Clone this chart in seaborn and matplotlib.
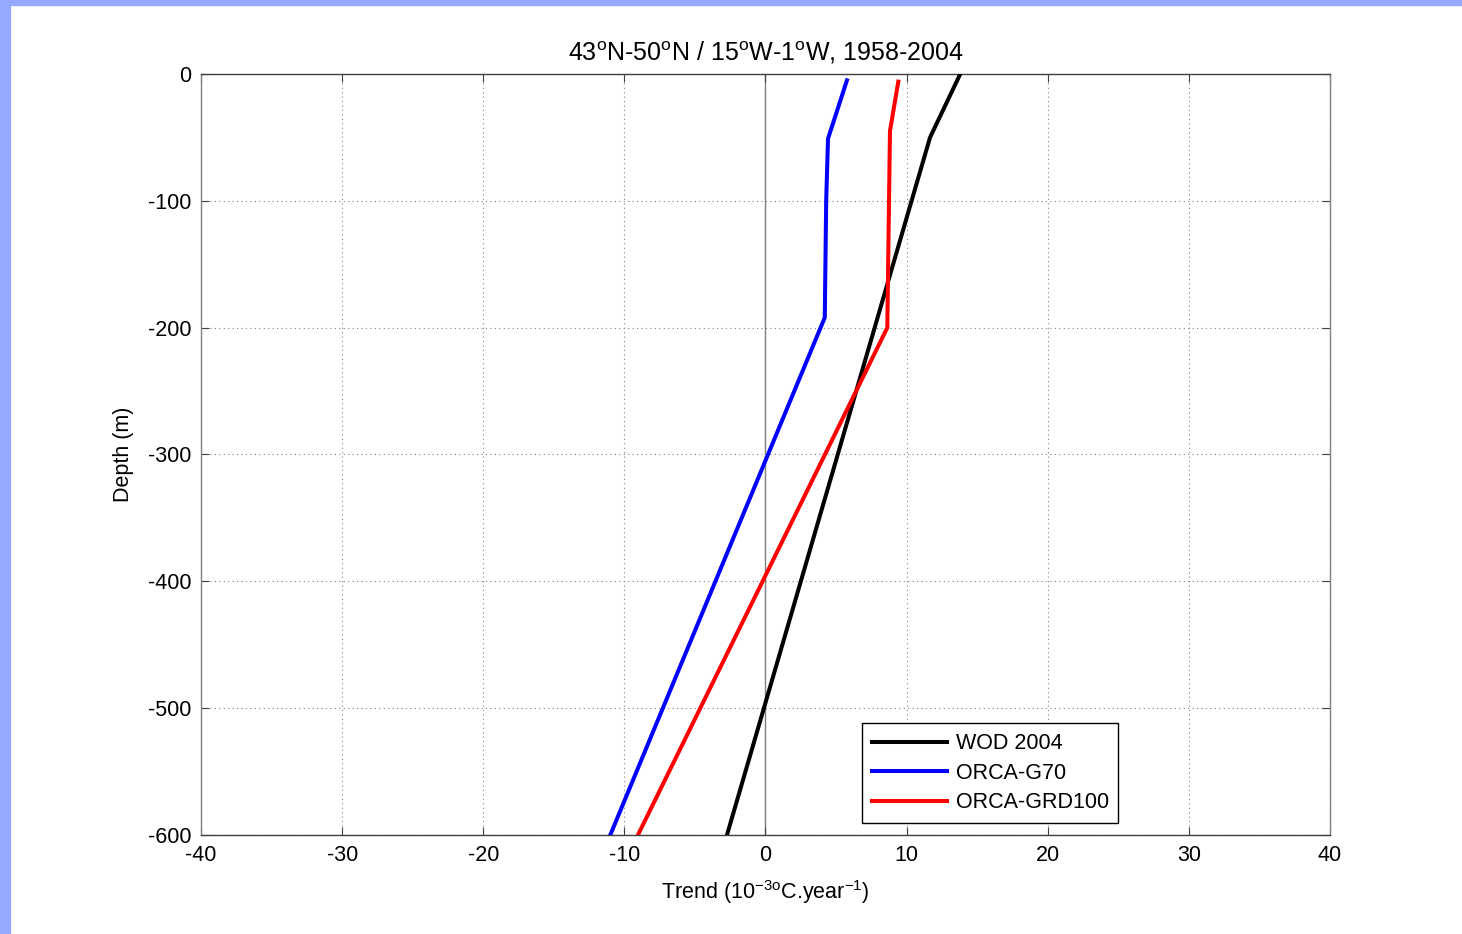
import numpy as np
import matplotlib
matplotlib.use("Agg")
import matplotlib.pyplot as plt
import pandas as pd
import seaborn as sns
from matplotlib.patches import Rectangle

# profiles (trend in 1e-3 degC/yr, depth in m)
wod_trend = [13.8, 11.66, -2.73]
wod_depth = [0, -50, -600]
g70_trend = [5.77, 4.43, 4.3, 4.2, -11.0]
g70_depth = [-5, -51, -100, -192, -600]
grd_trend = [9.41, 8.82, 8.63, -9.04]
grd_depth = [-6, -45, -200, -600]
names = ["WOD 2004", "ORCA-G70", "ORCA-GRD100"]
colors = ["black", "blue", "red"]

x_ticks = np.arange(-40, 41, 10)
y_ticks = np.arange(-600, 1, 100)

df = pd.concat([
    pd.DataFrame({"trend": wod_trend, "depth": wod_depth, "source": names[0]}),
    pd.DataFrame({"trend": g70_trend, "depth": g70_depth, "source": names[1]}),
    pd.DataFrame({"trend": grd_trend, "depth": grd_depth, "source": names[2]}),
], ignore_index=True)

plt.rcParams['font.family'] = ['Liberation Sans', 'DejaVu Sans']
plt.rcParams['font.size'] = 15.5
plt.rcParams['mathtext.fontset'] = 'custom'
plt.rcParams['mathtext.rm'] = 'Liberation Sans'
plt.rcParams['mathtext.it'] = 'Liberation Sans'
plt.rcParams['axes.unicode_minus'] = False

fig = plt.figure(figsize=(14.62, 9.34), dpi=100)
fig.patches.append(Rectangle((0, 0), 10 / 1462, 1, transform=fig.transFigure,
                             color='#96a9ff', zorder=0))
fig.patches.append(Rectangle((0, 1 - 5 / 934), 1, 5 / 934, transform=fig.transFigure,
                             color='#96a9ff', zorder=0))
ax = fig.add_axes([201 / 1462, 1 - 835 / 934, 1129 / 1462, 761 / 934])

ax.axvline(0, color='#808080', linewidth=1, zorder=1)
sns.lineplot(data=df, x='trend', y='depth', hue='source', palette=colors,
             sort=False, estimator=None, linewidth=2.9, ax=ax, zorder=3)

ax.set_xlim(-40, 40)
ax.set_ylim(-600, 0)
ax.set_xticks(x_ticks)
ax.set_yticks(y_ticks)
ax.grid(True, linestyle=(0, (1, 3)), color='#808080', linewidth=0.8)
ax.tick_params(direction='in', top=True, right=True, length=6, width=0.8,
               color='#404040', pad=7)
for s in ax.spines.values():
    s.set_color('#404040')
    s.set_linewidth(1)
ax.spines['left'].set_color('#808080')
ax.spines['right'].set_color('#808080')

ax.set_title(r"43$^{\mathrm{o}}$N-50$^{\mathrm{o}}$N / 15$^{\mathrm{o}}$W-1$^{\mathrm{o}}$W, 1958-2004",
             pad=10, fontsize=18)
ax.set_xlabel(r"Trend (10$^{-3\mathrm{o}}$C.year$^{-1}$)", labelpad=9)
ax.set_ylabel("Depth (m)", labelpad=10)

leg = ax.legend(loc='lower left', bbox_to_anchor=(0.5855, 0.0158), borderaxespad=0,
                fancybox=False, framealpha=1, edgecolor='black', handlelength=3.5,
                handletextpad=0.4, labelspacing=0.4, borderpad=0.45)
leg.get_frame().set_linewidth(1)

fig.savefig("out.png", dpi=100)
